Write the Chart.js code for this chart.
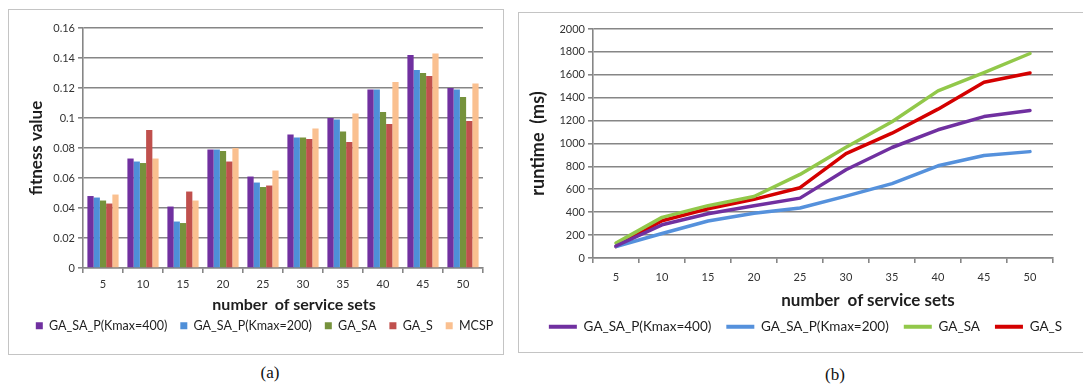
<!DOCTYPE html>
<html><head><meta charset="utf-8">
<script src="https://cdn.jsdelivr.net/npm/chart.js@4.4.1/dist/chart.umd.min.js"></script>
<style>
html,body{margin:0;padding:0;background:#fff;overflow:hidden;width:1083px;height:386px;}
.box{position:absolute;border:1px solid #c4c4c4;box-sizing:border-box;}
canvas{position:absolute;left:0;top:0;}
.cap{position:absolute;font-family:"Liberation Serif",serif;font-size:17px;color:#111;transform:translate(-50%,-50%);white-space:nowrap;}
.xt{position:absolute;font-family:Lato,sans-serif;font-weight:bold;color:#1e1e1e;transform:translate(-50%,-50%);white-space:pre;}
</style></head><body>
<div class="box" style="left:8px;top:9px;width:496px;height:346px"></div>
<div class="box" style="left:518px;top:12px;width:600px;height:341px"></div>
<div style="position:absolute;left:0;top:10px;width:518px;height:343px"><canvas id="ca" width="518" height="343"></canvas></div>
<div style="position:absolute;left:519px;top:13px;width:564px;height:339px"><canvas id="cb" width="564" height="339"></canvas></div>
<div class="xt" style="left:294px;top:303px;font-size:16px">number  of service sets</div>
<div class="xt" style="left:868px;top:299px;font-size:17px">number  of service sets</div>
<div class="cap" style="left:270px;top:373px">(a)</div>
<div class="cap" style="left:835px;top:375px">(b)</div>
<script>
// ---- data ----
const categories = ['5','10','15','20','25','30','35','40','45','50'];
const seriesNamesA = ['GA_SA_P(Kmax=400)','GA_SA_P(Kmax=200)','GA_SA','GA_S','MCSP'];
const fitP400 = [0.048,0.073,0.041,0.079,0.061,0.089,0.100,0.119,0.142,0.120];
const fitP200 = [0.047,0.071,0.031,0.079,0.057,0.087,0.099,0.119,0.132,0.119];
const fitSA   = [0.045,0.070,0.030,0.078,0.054,0.087,0.091,0.104,0.130,0.114];
const fitS    = [0.043,0.092,0.051,0.071,0.055,0.086,0.084,0.096,0.128,0.098];
const fitMCSP = [0.049,0.073,0.045,0.080,0.065,0.093,0.103,0.124,0.143,0.123];
const seriesNamesB = ['GA_SA_P(Kmax=400)','GA_SA_P(Kmax=200)','GA_SA','GA_S'];
const runP400 = [105,290,386,457,523,771,965,1120,1235,1288];
const runP200 = [100,214,323,391,437,540,650,805,895,929];
const runSA   = [130,355,457,537,730,968,1190,1460,1620,1786];
const runS    = [100,325,430,512,614,912,1090,1300,1535,1616];
const fitTicks = [0,0.02,0.04,0.06,0.08,0.1,0.12,0.14,0.16];
const runTicks = [0,200,400,600,800,1000,1200,1400,1600,1800,2000];

const barColors = ['#7030a0','#4f8fd8','#76923c','#c0504d','#fac090'];
const lineColors = ['#7030a0','#5591dc','#92c84a','#d40000'];
const gridCol = '#868686';
const tickFont = {family:'Lato', size:11};
const tickCol = '#333';

// ---- chart (a) ----
new Chart(document.getElementById('ca'), {
  type:'bar',
  data:{ labels:categories, datasets:[fitP400,fitP200,fitSA,fitS,fitMCSP].map((d,i)=>({
    label:seriesNamesA[i], data:d, backgroundColor:barColors[i], borderWidth:0,
    categoryPercentage:0.78, barPercentage:1.0 })) },
  options:{
    responsive:false, animation:false,
    layout:{padding:{left:11,right:0,top:18,bottom:11}},
    plugins:{ tooltip:{enabled:false},
      legend:{ position:'bottom', labels:{ boxWidth:7, boxHeight:7, padding:13, color:'#1e1e1e',
        font:{family:'Lato', size:12.5} } } },
    scales:{
      x:{ offset:true,
        grid:{ offset:true, drawOnChartArea:false, drawTicks:true, tickLength:5, color:gridCol, lineWidth:1.6 },
        border:{ color:gridCol, width:1.6 },
        ticks:{ font:tickFont, color:tickCol, padding:4.4, maxRotation:0, autoSkip:false },
        afterFit(s){ s.height = 38.45; } },
      y:{ min:0, max:0.16,
        afterBuildTicks(s){ s.ticks = fitTicks.map(v=>({value:v})); },
        afterFit(s){ s.width = 72; },
        ticks:{ font:tickFont, color:tickCol, padding:3, callback:v=>String(+(+v).toFixed(2)) },
        grid:{ color:gridCol, lineWidth:1.6, tickLength:5 },
        border:{ color:gridCol, width:1.6 },
        title:{ display:true, text:'fitness value', color:'#1e1e1e',
          font:{family:'Lato', size:17, weight:'bold'}, padding:{top:15.8,bottom:0} } },
      yR:{ type:'linear', position:'right', display:true, ticks:{display:false},
        grid:{display:false}, border:{display:false}, afterFit(s){ s.width = 35; } }
    }
  }
});

// ---- chart (b) ----
new Chart(document.getElementById('cb'), {
  type:'line',
  data:{ labels:categories, datasets:[runP400,runP200,runSA,runS].map((d,i)=>({
    label:seriesNamesB[i], data:d, borderColor:lineColors[i], backgroundColor:lineColors[i],
    borderWidth:3.5, pointRadius:0, tension:0, borderJoinStyle:'round', borderCapStyle:'round', fill:false })) },
  options:{
    responsive:false, animation:false,
    layout:{padding:{left:9,right:0,top:16,bottom:8.5}},
    plugins:{ tooltip:{enabled:false},
      legend:{ position:'bottom', labels:{ boxWidth:28, boxHeight:4, padding:15, color:'#1e1e1e',
        font:{family:'Lato', size:13.5},
        generateLabels(chart){
          return Chart.defaults.plugins.legend.labels.generateLabels(chart).map(it=>Object.assign(it,{lineWidth:0}));
        } } } },
    scales:{
      x:{ offset:true,
        grid:{ offset:true, drawOnChartArea:false, drawTicks:true, tickLength:5, color:gridCol, lineWidth:1.6 },
        border:{ color:gridCol, width:1.6 },
        ticks:{ font:tickFont, color:tickCol, padding:8.1, maxRotation:0, autoSkip:false },
        afterFit(s){ s.height = 47; } },
      y:{ min:0, max:2000,
        afterBuildTicks(s){ s.ticks = runTicks.map(v=>({value:v})); },
        afterFit(s){ s.width = 65; },
        ticks:{ font:tickFont, color:tickCol, padding:3, callback:v=>String(v) },
        grid:{ color:gridCol, lineWidth:1.6, tickLength:5 },
        border:{ color:gridCol, width:1.6 },
        title:{ display:true, text:'runtime  (ms)', color:'#1e1e1e',
          font:{family:'Lato', size:18, weight:'bold'}, padding:{top:-0.8,bottom:0} } },
      yR:{ type:'linear', position:'right', display:true, ticks:{display:false},
        grid:{display:false}, border:{display:false}, afterFit(s){ s.width = 30; } }
    }
  }
});
</script>
</body></html>
